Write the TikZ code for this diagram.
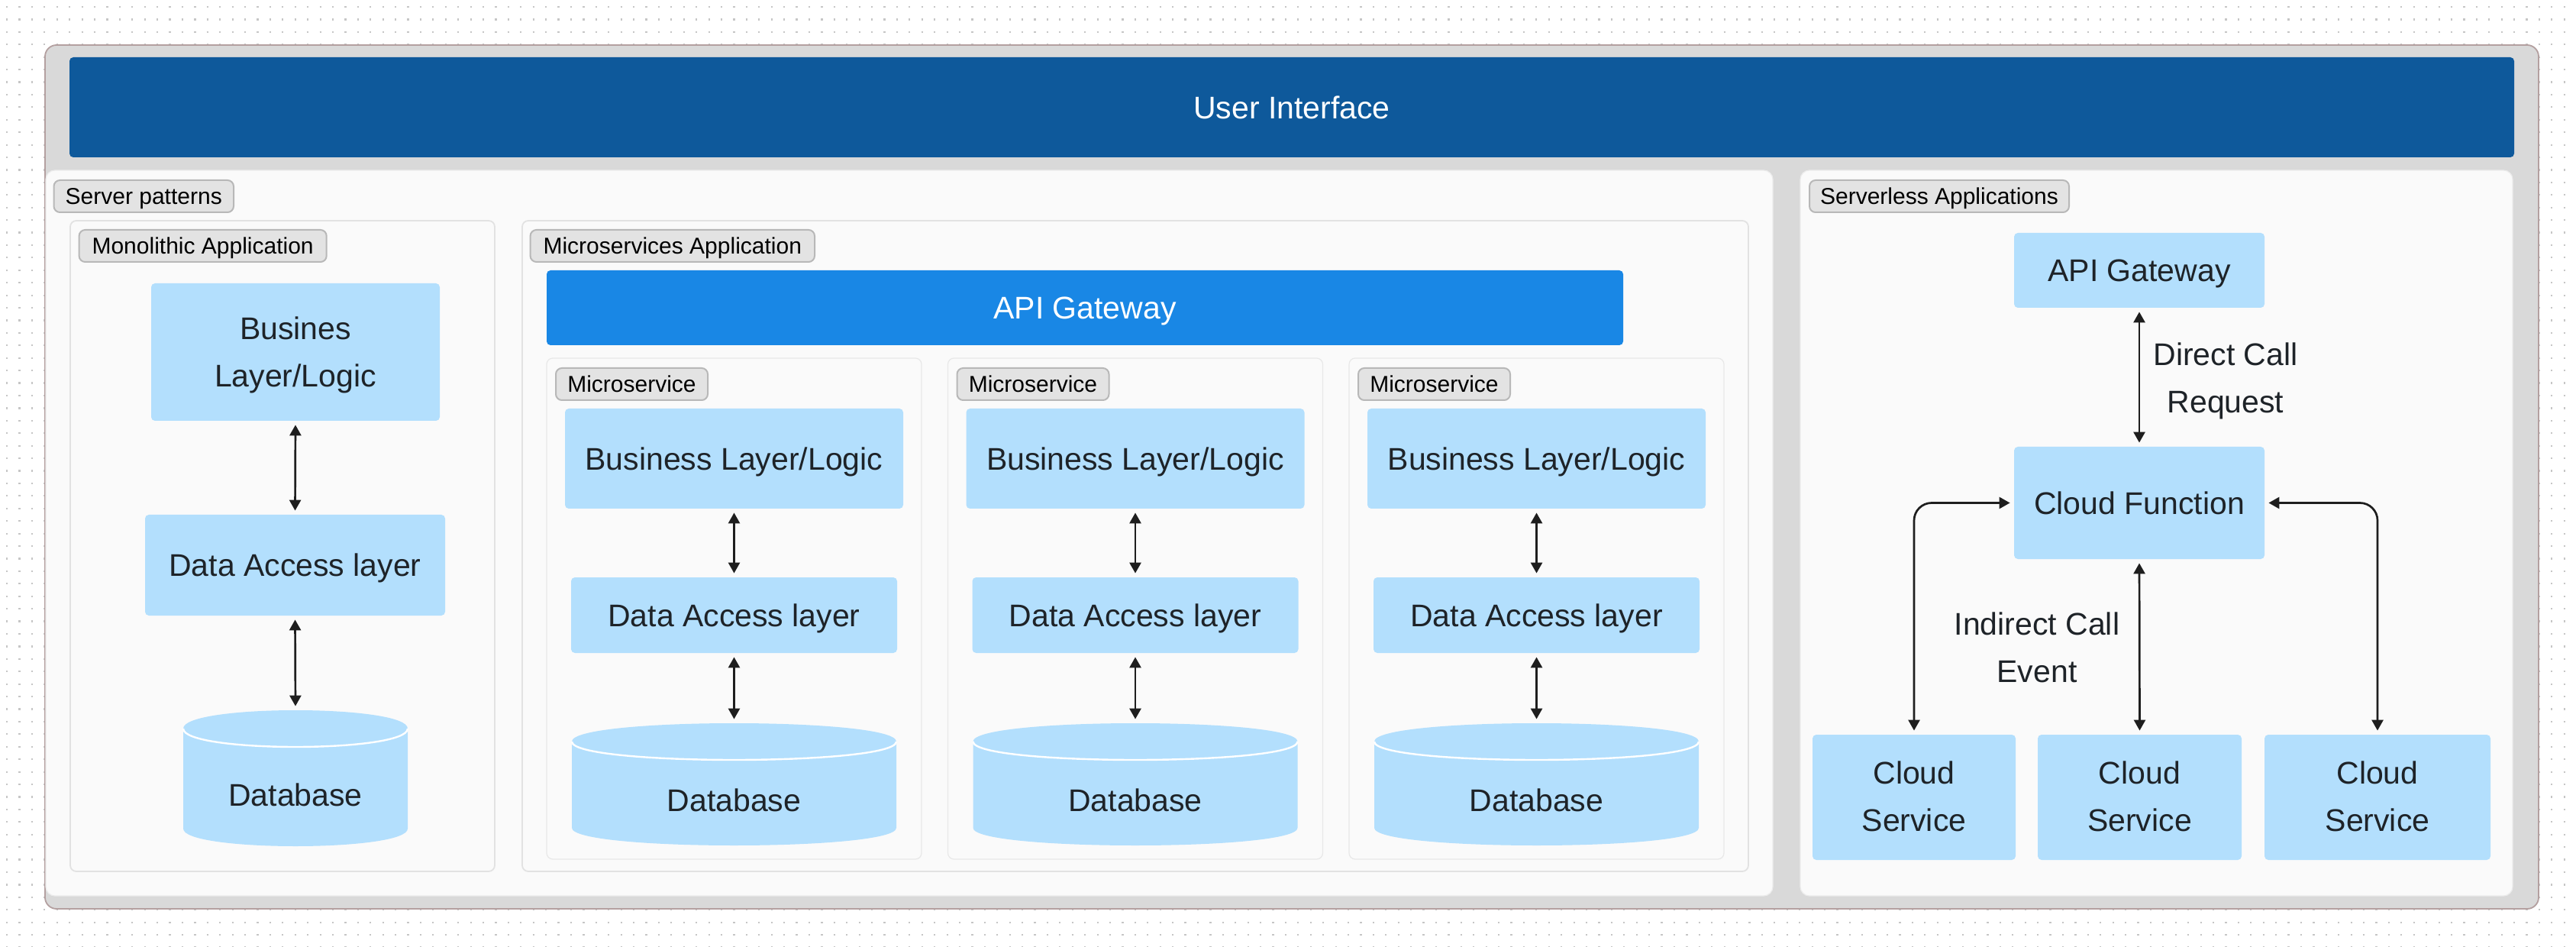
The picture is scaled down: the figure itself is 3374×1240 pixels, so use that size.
\documentclass[tikz,border=0pt]{standalone}
\usepackage{fontspec}
\setmainfont{Liberation Sans}
\usetikzlibrary{fit,arrows.meta,calc}
\definecolor{outerfill}{HTML}{D9D9D9}
\definecolor{outerline}{HTML}{B4A0A0}
\definecolor{uiblue}{HTML}{0E599B}
\definecolor{gwblue}{HTML}{1987E5}
\definecolor{panelfill}{HTML}{FAFAFA}
\definecolor{panelline}{HTML}{ECECEC}
\definecolor{subline}{HTML}{E2E2E2}
\definecolor{msline}{HTML}{E8E8E8}
\definecolor{tagfill}{HTML}{E3E3E3}
\definecolor{tagline}{HTML}{B8B8B8}
\definecolor{boxfill}{HTML}{B3DFFD}
\definecolor{txt}{HTML}{1E2328}
\definecolor{arrcol}{HTML}{1E1E1E}
\definecolor{dotcol}{HTML}{C6C6C6}
\newcommand\bxfont{\fontsize{20.5pt}{31pt}\selectfont}
\newcommand\tgfont{\fontsize{15pt}{18pt}\selectfont}
\newcommand\dbshape[4]{%
  \fill[boxfill] ({#1},{#3+24}) -- ({#1},{#4-23}) .. controls ({#1},{#4+7.67}) and ({#2},{#4+7.67}) .. ({#2},{#4-23})
    -- ({#2},{#3+24}) .. controls ({#2},{#3-8}) and ({#1},{#3-8}) .. cycle;
  \draw[white, line width=1.2pt] ({#1},{#3+24}) .. controls ({#1},{#3+56}) and ({#2},{#3+56}) .. ({#2},{#3+24});
}
\begin{document}
\begin{tikzpicture}[x=0.5pt,y=-0.5pt,
  outerbox/.style={draw=outerline, line width=0.9pt, fill=outerfill, rounded corners=7.5pt, inner sep=0pt},
  uibar/.style={fill=uiblue, rounded corners=2.5pt, inner sep=0pt},
  gwbar/.style={fill=gwblue, rounded corners=2.5pt, inner sep=0pt},
  panel/.style={fill=panelfill, draw=panelline, line width=0.6pt, rounded corners=6pt, inner sep=0pt},
  subpanel/.style={fill=panelfill, draw=subline, line width=0.9pt, rounded corners=4pt, inner sep=0pt},
  mspanel/.style={fill=panelfill, draw=msline, line width=0.6pt, rounded corners=4pt, inner sep=0pt},
  tag/.style={fill=tagfill, draw=tagline, line width=1pt, rounded corners=4pt, inner sep=0pt},
  tagtext/.style={font=\tgfont, text=black, text depth=0pt, inner sep=0pt},
  blk/.style={fill=boxfill, rounded corners=2.5pt, inner sep=0pt},
  wtext/.style={text=white, font=\bxfont, text depth=0pt, inner sep=0pt},
  onetext/.style={text=txt, font=\bxfont, text depth=0pt, inner sep=0pt},
  lbl/.style={text=txt, font=\bxfont, align=center, inner sep=0pt},
  dbarea/.style={inner sep=0pt},
  arr/.style={draw=arrcol, line width=1.35pt, {Triangle[length=7pt,width=7.5pt]}-{Triangle[length=7pt,width=7.5pt]}, shorten >=2.5pt, shorten <=2.5pt},
  dotrow/.style={draw=dotcol, line width=1.1pt, dash pattern=on 1.1pt off 7.11pt}
]
\useasboundingbox (0,0) rectangle (3374,1240);
\fill[white] (0,0) rectangle (3374,1240);
\foreach \k in {0,...,75} \draw[dotrow] (8,{9+16.42*\k}) -- (3374,{9+16.42*\k});

% outer frame and user interface
\node[outerbox, fit={(59,59) (3325,1190)}] (outer) {};
\node[uibar, fit={(91,75) (3293,206)}] (ui) {};
\node[wtext] (uit) at (ui.center) {User Interface};

% server patterns
\node[panel, fit={(60,223) (2322,1173)}] (sp) {};
\node[tag, fit={(70.5,236) (306,278)}] (sptag) {};
\node[tagtext] at (sptag.center) {Server patterns};

% monolithic
\node[subpanel, fit={(92,289) (648,1141)}] (mono) {};
\node[tag, fit={(103.6,301) (427.7,343)}] (monotag) {};
\node[tagtext] at (monotag.center) {Monolithic Application};
\node[blk, fit={(198,371) (576,551)}] (mbl) {};
\node[lbl] (mblt) at (387,465) {Busines\\Layer/Logic};
\node[blk, fit={(190,674) (583,806)}] (mda) {};
\node[onetext] (mdat) at (mda.center) {Data Access layer};
\dbshape{240}{534}{930}{1108}
\node[dbarea, fit={(240,930) (534,1108)}] (mdb) {};
\node[onetext] (mdbt) at (387,1041) {Database};
\draw[arr] (mbl.south) -- (mda.north);
\draw[arr] (mda.south) -- (mdb.north);

% microservices
\node[subpanel, fit={(684,289) (2290,1141)}] (micro) {};
\node[tag, fit={(694.6,301) (1067,343)}] (microtag) {};
\node[tagtext] at (microtag.center) {Microservices Application};
\node[gwbar, fit={(716,354) (2126,452)}] (gw) {};
\node[wtext] (gwt) at (gw.center) {API Gateway};
\foreach \i/\x in {1/716,2/1241.5,3/1767} {
  \node[mspanel, fit={(\x,469) ({\x+491},1125)}] (ms\i) {};
  \node[tag, fit={({\x+12},482) ({\x+211},524)}] (mstag\i) {};
  \node[tagtext] at (mstag\i.center) {Microservice};
  \node[blk, fit={({\x+24},535) ({\x+467},666)}] (bl\i) {};
  \node[onetext] (blt\i) at (bl\i.center) {Business Layer/Logic};
  \node[blk, fit={({\x+32},756) ({\x+459},855)}] (da\i) {};
  \node[onetext] (dat\i) at (da\i.center) {Data Access layer};
  \dbshape{\x+33}{\x+458}{947}{1107}
  \node[dbarea, fit={({\x+33},947) ({\x+458},1107)}] (db\i) {};
  \node[onetext] (dbt\i) at ({\x+245.5},1048) {Database};
  \draw[arr] (bl\i.south) -- (da\i.north);
  \draw[arr] (da\i.south) -- (db\i.north);
}

% serverless
\node[panel, fit={(2358,223) (3291,1173)}] (sl) {};
\node[tag, fit={(2370,236) (2710,278)}] (sltag) {};
\node[tagtext] at (sltag.center) {Serverless Applications};
\node[blk, fit={(2638,305) (2966,403)}] (sgw) {};
\node[onetext] (sgwt) at (sgw.center) {API Gateway};
\node[blk, fit={(2638,585) (2966,732)}] (cf) {};
\node[onetext] (cft) at (cf.center) {Cloud Function};
\node[blk, fit={(2374,962) (2640,1126)}] (cs1) {};
\node[blk, fit={(2669,962) (2936,1126)}] (cs2) {};
\node[blk, fit={(2966,962) (3262,1126)}] (cs3) {};
\foreach \j in {1,2,3} \node[lbl] (cst\j) at ($(cs\j.center)+(0,-1)$) {Cloud\\Service};
\draw[arr] (sgw.south) -- (cf.north);
\draw[arr] (cf.south) -- (cs2.north);
\draw[arr, rounded corners=11.5pt] (cs1.north) |- (cf.west);
\draw[arr, rounded corners=11.5pt] (cs3.north) |- (cf.east);
\node[lbl] (direct) at (2915,498.5) {Direct Call\\Request};
\node[lbl] (indirect) at (2668,847.5) {Indirect Call\\Event};
\end{tikzpicture}
\end{document}
